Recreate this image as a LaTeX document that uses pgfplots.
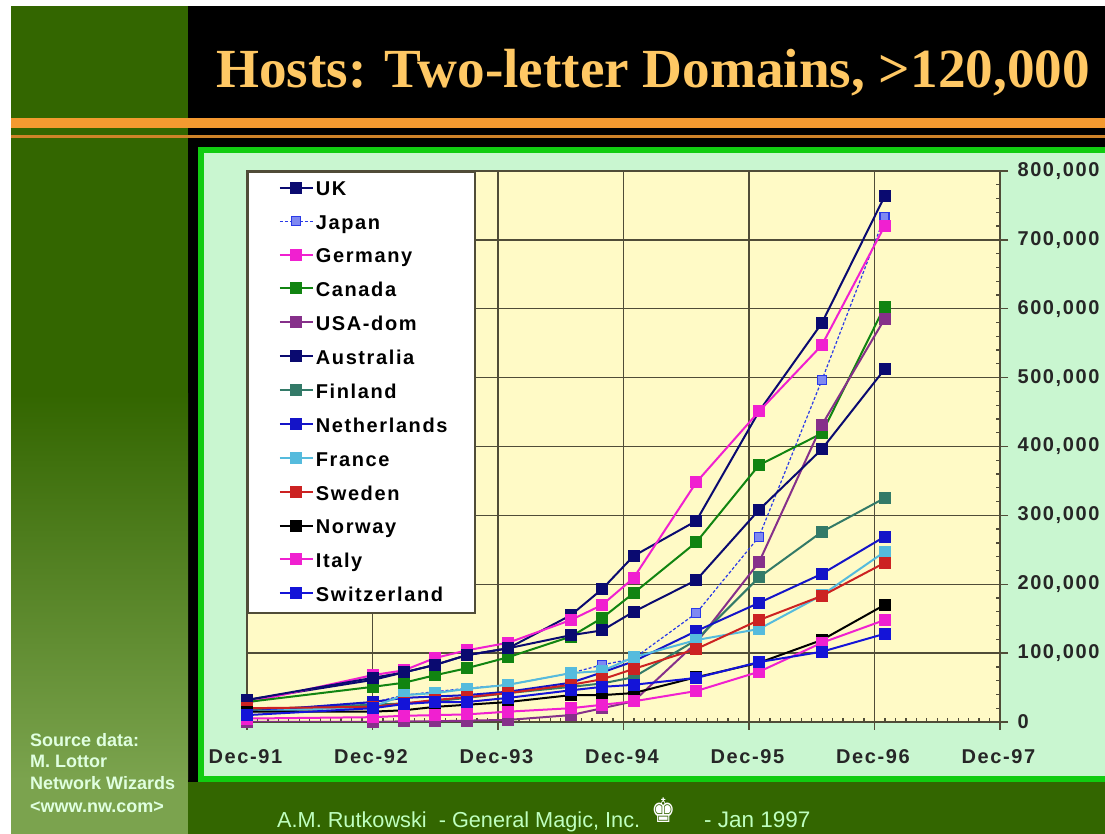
\documentclass[border=0pt]{standalone}
\usepackage{pgfplots}
\usepackage{pgfplotstable}
\usepackage{fontspec}
\pgfplotsset{compat=1.18}
\setmainfont{Liberation Sans}
\newfontfamily\lab{Liberation Sans}[LetterSpace=8,BoldFont={Liberation Sans Bold}]
\newfontfamily\ttl{Liberation Serif}
\newfontfamily\sym{DejaVu Sans}
\definecolor{sidetop}{HTML}{336600}
\definecolor{sidebot}{HTML}{7BA34E}
\definecolor{frameg}{HTML}{11CC11}
\definecolor{panel}{HTML}{C9F6D0}
\definecolor{plotbg}{HTML}{FFFAC6}
\definecolor{gridc}{HTML}{504C38}
\definecolor{orangeb}{HTML}{F49A30}
\definecolor{gold}{HTML}{FFC864}
\definecolor{cUK}{HTML}{0A0A70}
\definecolor{cJP}{HTML}{2A3AE8}
\definecolor{cDE}{HTML}{F020D0}
\definecolor{cCA}{HTML}{118411}
\definecolor{cUS}{HTML}{86308A}
\definecolor{cAU}{HTML}{0A0A70}
\definecolor{cFI}{HTML}{337A68}
\definecolor{cNL}{HTML}{1414C8}
\definecolor{cFR}{HTML}{55BBDD}
\definecolor{cSE}{HTML}{CC2222}
\definecolor{cNO}{HTML}{000000}
\definecolor{cIT}{HTML}{F020D0}
\definecolor{cCH}{HTML}{1414D8}
\pgfplotstableread{
t UK Japan Germany Canada USA Australia Finland Netherlands France Sweden Norway Italy Switzerland
0 32000 15000 28000 29000 0 32000 18000 15000 15000 20000 15000 5000 10000
1 61000 28000 68000 51000 0 64000 25000 29000 22000 22000 15000 7000 20000
1.25 72000 39000 75000 57000 1000 72000 27000 35000 39000 27000 17000 9000 26000
1.5 83000 44000 93000 68000 1000 83000 30000 37000 42000 32000 22000 10000 29000
1.75 97000 49000 104000 78000 2000 97000 35000 39000 48000 36000 25000 11000 29000
2.08 107000 54000 115000 94000 3000 107000 42000 44000 54000 42000 29000 15000 35000
2.58 155000 71000 148000 124000 10000 126000 51000 57000 71000 54000 39000 20000 46000
2.83 193000 83000 170000 151000 20000 133000 56000 72000 74000 62000 39000 25000 51000
3.08 241000 92000 209000 187000 30000 160000 65000 88000 94000 77000 42000 30000 54000
3.58 292000 158000 348000 261000 115000 206000 119000 132000 119000 106000 65000 45000 64000
4.08 451000 269000 451000 373000 232000 308000 210000 173000 135000 148000 86000 73000 87000
4.58 579000 496000 547000 419000 431000 396000 276000 215000 184000 183000 119000 115000 102000
5.08 763000 733000 720000 603000 585000 512000 325000 269000 247000 231000 170000 148000 128000
}\hosts
\newcommand{\lgd}[1]{\makebox[157pt][l]{\rule[-5pt]{0pt}{19pt}\lab\bfseries\fontsize{20}{22}\selectfont #1}}
\begin{document}
\begin{tikzpicture}[x=1pt,y=1pt]
\clip (0,0) rectangle (1105,834);
\fill[white] (0,0) rectangle (1105,834);
\fill[black] (188,0) rectangle (1105,828);
\fill[sidetop] (11,0) rectangle (188,828);
\shade[top color=sidetop,bottom color=sidebot,shading angle=0] (11,54) rectangle (188,440);
\fill[sidebot] (11,0) rectangle (188,54);
\fill[sidetop] (188,0) rectangle (1105,52);
\fill[orangeb] (11,706) rectangle (1105,716);
\fill[orangeb!85!black] (11,696) rectangle (1105,699);
\fill[frameg] (198,52) rectangle (1105,687);
\fill[panel] (204,58) rectangle (1105,681);
\begin{axis}[
  at={(247pt,112pt)},anchor=south west,
  scale only axis,width=753pt,height=551pt,
  xmin=0,xmax=6,ymin=0,ymax=800000,
  axis background/.style={fill=plotbg},
  axis line style={gridc,line width=1.6pt},
  xtick={0,1,2,3,4,5,6},
  xticklabels={Dec-91,Dec-92,Dec-93,Dec-94,Dec-95,Dec-96,Dec-97},
  ytick={0,100000,200000,300000,400000,500000,600000,700000,800000},
  minor x tick num=11,minor y tick num=4,
  scaled y ticks=false,
  yticklabel pos=right,
  xtick pos=bottom,ytick pos=right,
  tick align=outside,
  major tick length=8pt,minor tick length=4pt,
  tick style={gridc,line width=1.3pt},
  minor x tick style={yshift=4pt},
  minor y tick style={xshift=-4pt},
  grid=major,
  major grid style={gridc,line width=1.3pt},
  /pgf/number format/.cd,fixed,precision=0,1000 sep={,},assume math mode=true,/pgfplots/.cd,
  yticklabel style={anchor=west,font=\lab\bfseries\fontsize{20}{22}\selectfont,text=black!85,xshift=6pt},
  xticklabel style={font=\lab\bfseries\fontsize{20}{22}\selectfont,text=black!85,yshift=-16pt,xshift=-1.5pt},
  every axis plot/.append style={line width=2pt,mark=square*,mark size=5pt},
  legend style={at={(0,1)},anchor=north west,fill=white,draw=gridc,line width=1.8pt,
    inner xsep=0pt,inner ysep=8pt,row sep=14pt,
    /tikz/every even column/.style={column sep=5pt}},
  legend cell align=left,
  legend columns=1,
  legend image code/.code={\path (0pt,0pt) (64pt,0pt);\draw[#1,mark repeat=2,mark phase=2] plot coordinates {(31pt,2pt)(47pt,2pt)(64pt,2pt)};},
]
\addplot[cUK,mark options={fill=cUK}] table[x=t,y=UK]{\hosts};
\addplot[cJP,line width=1.2pt,densely dashed,mark=square*,mark options={solid,fill=cJP!60!white,draw=cJP,mark size=4.5pt}] table[x=t,y=Japan]{\hosts};
\addplot[cDE,mark options={fill=cDE}] table[x=t,y=Germany]{\hosts};
\addplot[cCA,mark options={fill=cCA}] table[x=t,y=Canada]{\hosts};
\addplot[cUS,mark options={fill=cUS}] table[x=t,y=USA]{\hosts};
\addplot[cAU,mark options={fill=cAU}] table[x=t,y=Australia]{\hosts};
\addplot[cFI,mark options={fill=cFI}] table[x=t,y=Finland]{\hosts};
\addplot[cNL,mark options={fill=cNL}] table[x=t,y=Netherlands]{\hosts};
\addplot[cFR,mark options={fill=cFR}] table[x=t,y=France]{\hosts};
\addplot[cSE,mark options={fill=cSE}] table[x=t,y=Sweden]{\hosts};
\addplot[cNO,mark options={fill=cNO}] table[x=t,y=Norway]{\hosts};
\addplot[cIT,mark options={fill=cIT}] table[x=t,y=Italy]{\hosts};
\addplot[cCH,mark options={fill=cCH}] table[x=t,y=Switzerland]{\hosts};
\legend{\lgd{UK},\lgd{Japan},\lgd{Germany},\lgd{Canada},\lgd{USA-dom},\lgd{Australia},\lgd{Finland},\lgd{Netherlands},\lgd{France},\lgd{Sweden},\lgd{Norway},\lgd{Italy},\lgd{Switzerland}}
\end{axis}
\node[anchor=base west,inner sep=0pt,text=gold] at (216,746) {\ttl\bfseries\fontsize{55.2}{60}\selectfont Hosts: Two-letter Domains, >120,000};
\node[anchor=base west,inner sep=0pt,text=white!88!green] at (30,87) {\bfseries\fontsize{18}{20}\selectfont Source data:};
\node[anchor=base west,inner sep=0pt,text=white!88!green] at (30,66) {\bfseries\fontsize{18}{20}\selectfont M. Lottor};
\node[anchor=base west,inner sep=0pt,text=white!88!green] at (30,44) {\bfseries\fontsize{18}{20}\selectfont Network Wizards};
\node[anchor=base west,inner sep=0pt,text=white!88!green] at (30,21) {\bfseries\fontsize{18}{20}\selectfont <www.nw.com>};
\node[anchor=base west,inner sep=0pt,text=white!75!green] at (277,6) {\fontsize{21.7}{24}\selectfont A.M. Rutkowski\ \ - General Magic, Inc.};
\node[anchor=base west,inner sep=0pt,text=white!75!green] at (704,6) {\fontsize{22.5}{24}\selectfont - Jan 1997};
\node[anchor=center,inner sep=0pt,text=white] at (664,24) {\scalebox{0.85}[1.05]{\sym\fontsize{32}{34}\selectfont ♚}};
\end{tikzpicture}
\end{document}
